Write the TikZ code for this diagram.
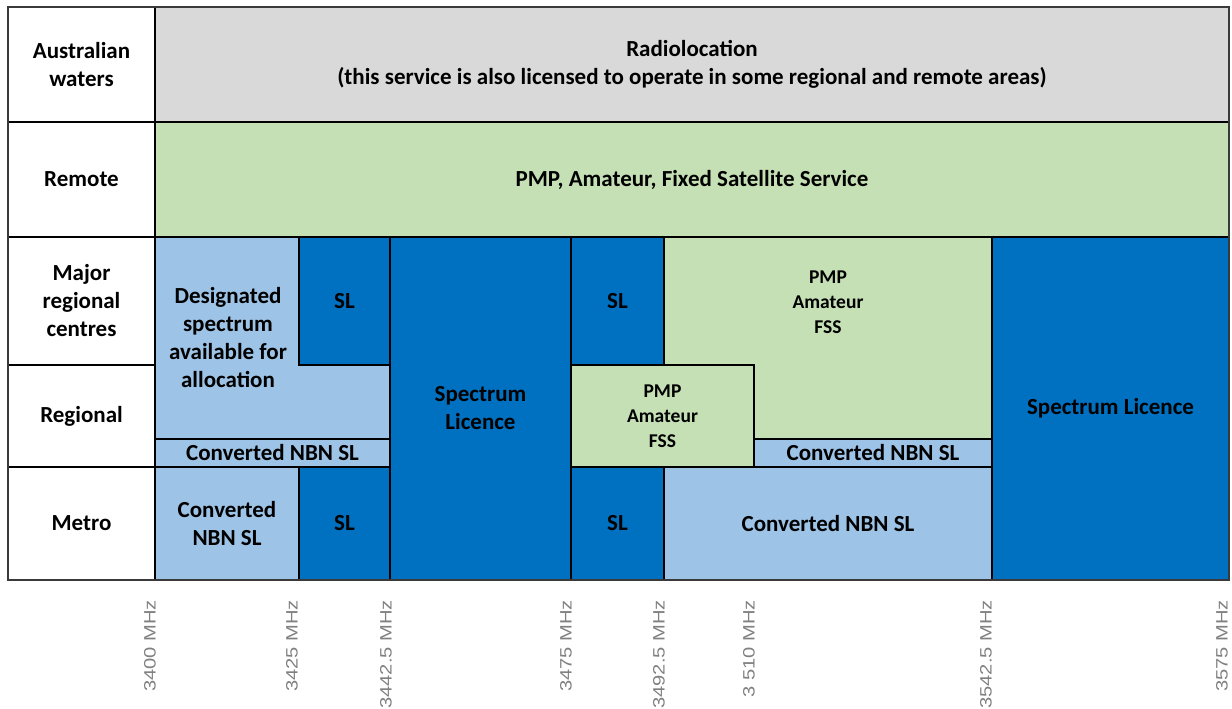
\documentclass[tikz,border=0pt]{standalone}
\usepackage{fontspec}
\setmainfont{Carlito}
\newfontfamily\axisfont{Liberation Sans}
\definecolor{radiogray}{HTML}{D9D9D9}
\definecolor{svcgreen}{HTML}{C5E0B4}
\definecolor{lightblue}{HTML}{9DC3E6}
\definecolor{darkblue}{HTML}{0070C0}
\definecolor{axisgray}{HTML}{808080}
\definecolor{framegray}{HTML}{3A3A3A}
\newcommand\cellbox[7]{\node[#6, minimum width={(#4-#2)*1pt}, minimum height={(#5-#3)*1pt}] (#1) at ({(#2+#4)/2},{(#3+#5)/2}) {#7};}
\newcommand\axistext[1]{\scalebox{1.22}[1]{#1}}
\begin{document}
\begin{tikzpicture}[x=1pt,y=-1pt,
  base/.style={draw=black, line width=1.5pt, inner sep=0pt, outer sep=0pt, align=center,
    font=\fontsize{23}{28}\selectfont\bfseries},
  labelcell/.style={base, fill=white},
  graycell/.style={base, fill=radiogray},
  greencell/.style={base, fill=svcgreen},
  lightcell/.style={base, fill=lightblue},
  darkcell/.style={base, fill=darkblue},
  plaintext/.style={inner sep=0pt, align=center, font=\fontsize{23}{28}\selectfont\bfseries},
  smalltext/.style={inner sep=0pt, align=center, font=\fontsize{19.5}{25}\selectfont\bfseries},
  axislabel/.style={rotate=90, anchor=east, inner sep=0pt, text=axisgray, font=\axisfont\fontsize{16.5}{18}\selectfont}
]
\useasboundingbox (0,0) rectangle (1232,709);
% label column
\cellbox{lab1}{8}{7}{155}{122}{labelcell}{Australian\\waters}
\cellbox{lab2}{8}{122}{155}{237}{labelcell}{Remote}
\cellbox{lab3}{8}{237}{155}{365}{labelcell}{Major\\regional\\centres}
\cellbox{lab4}{8}{365}{155}{467}{labelcell}{Regional}
\cellbox{lab5}{8}{467}{155}{580}{labelcell}{Metro}
% top rows
\cellbox{radio}{155}{7}{1229}{122}{graycell}{Radiolocation\\(this service is also licensed to operate in some regional and remote areas)}
\cellbox{remote}{155}{122}{1229}{237}{greencell}{PMP, Amateur, Fixed Satellite Service}
% 3400-3442.5
\cellbox{des}{155}{237}{390}{439}{lightcell}{}
\cellbox{sl1}{299}{237}{390}{365}{darkcell}{SL}
\node[plaintext] (destext) at (228,338) {Designated\\spectrum\\available for\\allocation};
\cellbox{cnbn1}{155}{439}{390}{467}{lightcell}{Converted NBN SL}
\cellbox{cnbn2}{155}{467}{299}{580}{lightcell}{Converted\\NBN SL}
\cellbox{sl2}{299}{467}{390}{580}{darkcell}{SL}
% 3442.5-3475
\cellbox{spec1}{390}{237}{571}{580}{darkcell}{Spectrum\\Licence}
% 3475-3542.5
\cellbox{pmp2}{664}{237}{992}{439}{greencell}{}
\node[smalltext] (pmp2text) at (828,302) {PMP\\Amateur\\FSS};
\cellbox{sl3}{571}{237}{664}{365}{darkcell}{SL}
\cellbox{pmp1}{571}{365}{754}{467}{greencell, smalltext}{PMP\\Amateur\\FSS}
\cellbox{cnbn3}{754}{439}{992}{467}{lightcell}{Converted NBN SL}
\cellbox{sl4}{571}{467}{664}{580}{darkcell}{SL}
\cellbox{cnbn4}{664}{467}{992}{580}{lightcell}{Converted NBN SL}
% 3542.5-3575
\cellbox{spec2}{992}{237}{1229}{580}{darkcell}{Spectrum Licence}
% outer frame
\node[draw=framegray, line width=2pt, inner sep=0pt, outer sep=0pt, minimum width=1221pt, minimum height=573pt] (frame) at (618.5,293.5) {};
% axis labels
\node[axislabel] (t1) at (150,600) {\axistext{3400 MHz}};
\node[axislabel] (t2) at (292,600) {\axistext{3425 MHz}};
\node[axislabel] (t3) at (386,600) {\axistext{3442.5 MHz}};
\node[axislabel] (t4) at (566,600) {\axistext{3475 MHz}};
\node[axislabel] (t5) at (659,600) {\axistext{3492.5 MHz}};
\node[axislabel] (t6) at (749,600) {\axistext{3 510 MHz}};
\node[axislabel] (t7) at (986,600) {\axistext{3542.5 MHz}};
\node[axislabel] (t8) at (1222,600) {\axistext{3575 MHz}};
\end{tikzpicture}
\end{document}
